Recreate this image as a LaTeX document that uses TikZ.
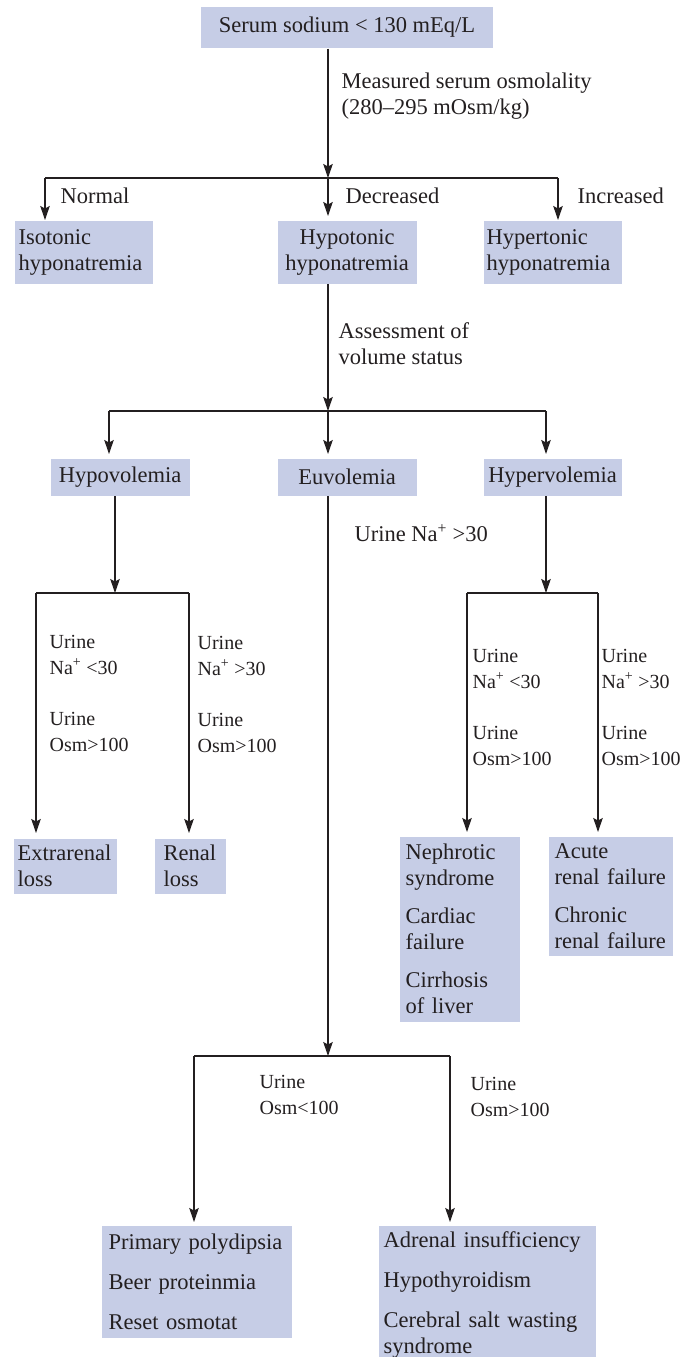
\documentclass[tikz,border=0pt]{standalone}
\usepackage{fontspec}
\setmainfont{Liberation Serif}
\usetikzlibrary{arrows.meta}
\definecolor{boxfill}{RGB}{198,205,230}
\definecolor{linecol}{RGB}{35,31,32}

\begin{document}
\begin{tikzpicture}[x=1pt, y=-1pt, line width=1.2pt, color=linecol,
		box/.style={fill=boxfill, anchor=north west, inner xsep=4pt, inner ysep=0pt,
			align=left, font=\fontsize{22.5}{26}\selectfont},
		cbox/.style={box, align=center},
		lbl/.style={anchor=west, inner sep=0pt, align=left, font=\fontsize{22.5}{26}\selectfont},
		slbl/.style={lbl, font=\fontsize{20}{26}\selectfont},
		arr/.style={-{Stealth[length=14pt, width=9.5pt, inset=2.5pt]}}]
			\useasboundingbox (0,0) rectangle (694,1357);

			\node[cbox, anchor=center, minimum width=292pt, minimum height=41pt] (top) at (347,27.5) {Serum sodium < 130 mEq/L};
			\node[box, text width=130pt, minimum height=63pt] (iso) at (14,220) {Isotonic\\hyponatremia};
			\node[cbox, text width=131pt, minimum height=63pt] (hypot) at (277,220) {Hypotonic\\hyponatremia};
			\node[box, inner xsep=3pt, text width=132pt, minimum height=63pt] (hypert) at (483,220) {Hypertonic\\hyponatremia};

			\node[cbox, text width=131pt, minimum height=37pt] (hypov) at (50,458) {Hypovolemia};
			\node[cbox, text width=131pt, minimum height=37pt] (euvol) at (277,458) {Euvolemia};
			\node[cbox, text width=130pt, minimum height=37pt] (hyperv) at (483,458) {Hypervolemia};

			\node[box, text width=95pt, minimum height=55pt] (extra) at (13,838) {Extrarenal\\loss};
			\node[box, inner xsep=9pt, text width=53pt, minimum height=55pt] (renal) at (154,838) {Renal\\loss};
			\node[box, inner xsep=6pt, text width=108pt, minimum height=185pt] (nephro) at (399,836)
				{Nephrotic\\syndrome\\[12pt]Cardiac\\failure\\[12pt]Cirrhosis\\of liver};
			\node[box, inner xsep=6pt, text width=112pt, minimum height=119pt] (acute) at (548,836)
				{Acute\\renal failure\\[12pt]Chronic\\renal failure};

			\node[box, inner xsep=7pt, text width=176pt, minimum height=112pt] (poly) at (101,1225)
				{Primary polydipsia\\[14pt]Beer proteinmia\\[14pt]Reset osmotat};
			\node[box, inner xsep=5pt, text width=207pt, minimum height=138pt] (adren) at (378,1225)
				{Adrenal insufficiency\\[14pt]Hypothyroidism\\[14pt]Cerebral salt wasting\\syndrome};

			\node[lbl] (msr) at (341,96) {Measured serum osmolality\\(280--295 mOsm/kg)};
			\node[lbl] (nrm) at (60,196) {Normal};
			\node[lbl] (dec) at (345,196) {Decreased};
			\node[lbl] (inc) at (577,196) {Increased};
			\node[lbl] (ass) at (338,344) {Assessment of\\volume status};
			\node[lbl] (una) at (354,533) {Urine Na\textsuperscript{+} >30};
			\node[slbl] (hpl) at (49,693) {Urine\\Na\textsuperscript{+} <30\\[25pt]Urine\\Osm>100};
			\node[slbl] (hpr) at (197,694) {Urine\\Na\textsuperscript{+} >30\\[25pt]Urine\\Osm>100};
			\node[slbl] (hvl) at (472,707) {Urine\\Na\textsuperscript{+} <30\\[25pt]Urine\\Osm>100};
			\node[slbl] (hvr) at (601,707) {Urine\\Na\textsuperscript{+} >30\\[25pt]Urine\\Osm>100};
			\node[slbl] (eul) at (259,1095) {Urine\\Osm<100};
			\node[slbl] (eur) at (470,1097) {Urine\\Osm>100};

			\coordinate (s1) at (328,178);  \coordinate (s1l) at (45,178);  \coordinate (s1r) at (558,178);
			\coordinate (s2) at (328,411);  \coordinate (s2l) at (109,411); \coordinate (s2r) at (546,411);
			\coordinate (s3) at (115,593);  \coordinate (s3l) at (36,593);  \coordinate (s3r) at (189,593);
			\coordinate (s4) at (546,593);  \coordinate (s4l) at (467,593); \coordinate (s4r) at (598,593);
			\coordinate (s5) at (328,1056); \coordinate (s5l) at (194,1056); \coordinate (s5r) at (450,1056);

			\draw[arr] (top.south -| s1) -- (s1);
			\draw (s1l) -- (s1r);
			\draw[arr] (s1l) -- (s1l |- iso.north);
			\draw[arr, shorten >=4pt] (s1) -- (s1 |- hypot.north);
			\draw[arr] (s1r) -- (s1r |- hypert.north);

			\draw[arr] (hypot.south -| s2) -- (s2);
			\draw (s2l) -- (s2r);
			\draw[arr, shorten >=4pt] (s2l) -- (s2l |- hypov.north);
			\draw[arr, shorten >=4pt] (s2) -- (s2 |- euvol.north);
			\draw[arr, shorten >=4pt] (s2r) -- (s2r |- hyperv.north);

			\draw[arr] (hypov.south -| s3) -- (s3);
			\draw (s3l) -- (s3r);
			\draw[arr, shorten >=5pt] (s3l) -- (s3l |- extra.north);
			\draw[arr, shorten >=5pt] (s3r) -- (s3r |- renal.north);

			\draw[arr] (hyperv.south -| s4) -- (s4);
			\draw (s4l) -- (s4r);
			\draw[arr, shorten >=4pt] (s4l) -- (s4l |- nephro.north);
			\draw[arr, shorten >=4pt] (s4r) -- (s4r |- acute.north);

			\draw[arr] (euvol.south -| s5) -- (s5);
			\draw (s5l) -- (s5r);
			\draw[arr, shorten >=3pt] (s5l) -- (s5l |- poly.north);
			\draw[arr, shorten >=3pt] (s5r) -- (s5r |- adren.north);
		\end{tikzpicture}
\end{document}
